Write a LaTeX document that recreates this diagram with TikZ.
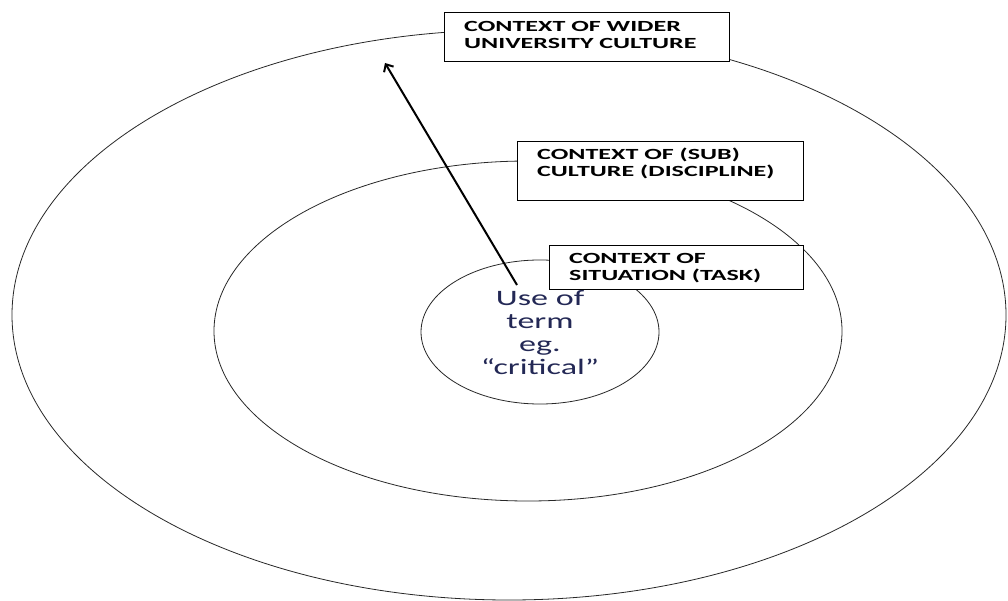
\documentclass[tikz,border=0pt]{standalone}
\usepackage{fontspec}
\setmainfont{Carlito}
\newfontfamily\boxfont[FakeStretch=1.68]{Carlito}
\newfontfamily\centerfont[FakeStretch=1.55]{Carlito}
\usetikzlibrary{arrows.meta}
\definecolor{ringcol}{RGB}{40,40,40}
\definecolor{termcol}{RGB}{35,40,85}
\begin{document}
\begin{tikzpicture}[x=1pt,y=-1pt,
  ring/.style={draw=ringcol,line width=0.8pt},
  ctxbox/.style={draw=black,line width=1pt,fill=white,anchor=north west,inner sep=0pt},
  ctxtext/.style={anchor=base west,inner sep=0pt,align=left,font=\boxfont\bfseries\fontsize{15.5}{17}\selectfont,text=black},
  termtext/.style={align=center,inner sep=0pt,font=\centerfont\fontsize{22}{23}\selectfont,text=termcol},
  arr/.style={line width=2pt,-{Straight Barb[length=6pt,width=11pt,line width=2pt]}}]
\useasboundingbox (0,0) rectangle (1008,601);
\clip (0,0) rectangle (1008,601);
\fill[white] (0,0) rectangle (1008,601);
% rings
\coordinate (c1) at (509,315);
\coordinate (c2) at (528,331);
\coordinate (c3) at (540,332);
\draw[ring] (c1) ellipse [x radius=497pt, y radius=285pt];
\draw[ring] (c2) ellipse [x radius=314pt, y radius=170pt];
\draw[ring] (c3) ellipse [x radius=119pt, y radius=72pt];
% boxes
\node[ctxbox,minimum width=285pt,minimum height=49pt] (b1) at (444,12) {};
\node[ctxbox,minimum width=286pt,minimum height=59pt] (b2) at (517,141) {};
\node[ctxbox,minimum width=254pt,minimum height=44pt] (b3) at (549,245) {};
\node[ctxtext] (t1) at (464,48.5) {CONTEXT OF WIDER\\UNIVERSITY CULTURE};
\node[ctxtext] (t2) at (537,176.5) {CONTEXT OF (SUB)\\CULTURE (DISCIPLINE)};
\node[ctxtext] (t3) at (569,280.5) {CONTEXT OF\\SITUATION (TASK)};
% centre term
\node[termtext] (term) at (540,333) {Use of\\term\\eg.\\“critical”};
% arrow
\coordinate (a0) at (517,285);
\coordinate (a1) at (385,63);
\draw[arr] (a0) -- (a1);
\end{tikzpicture}
\end{document}
